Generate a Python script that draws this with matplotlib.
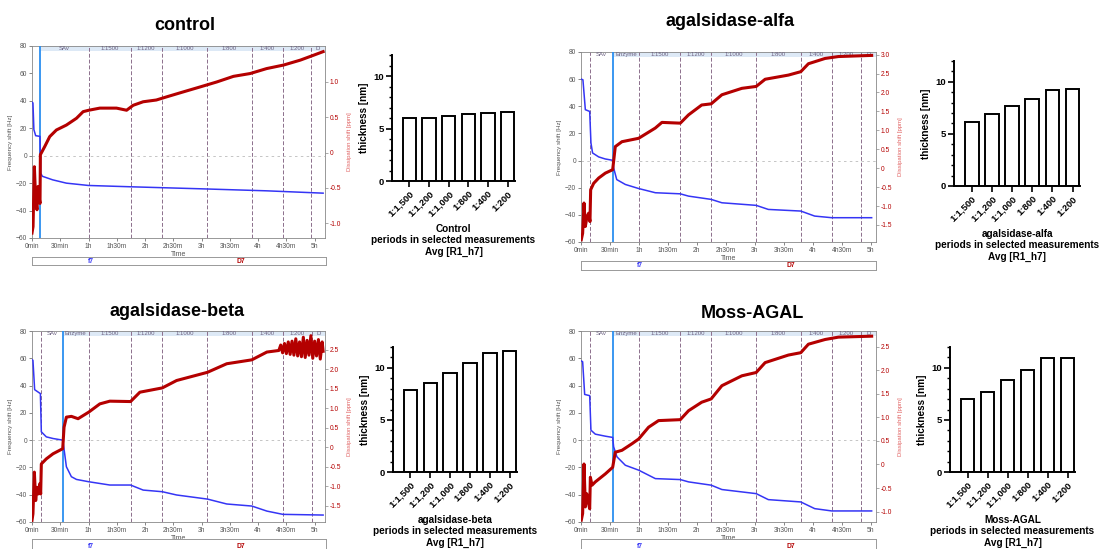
import matplotlib
matplotlib.use('Agg')
import matplotlib.pyplot as plt
from matplotlib.patches import Rectangle
from matplotlib.ticker import MultipleLocator

plt.rcParams['font.family'] = ['Liberation Sans', 'DejaVu Sans']

W, H = 1102, 549

# ---- QCM traces (time in minutes) ----
ctrl_tf = [0, 1, 2, 3.9, 8.5, 9.2, 11, 22, 36.5, 60, 107, 178, 249, 309]
ctrl_f = [39, 38.5, 19, 14.6, 14.1, -12.7, -15, -17.6, -20, -21.7, -22.7, -24.1, -25.6, -27.3]
ctrl_td = [0, 1.1, 2.5, 3.9, 5.3, 6.4, 7.4, 8.5, 8.9, 13.5, 18.8, 25.9, 36.5, 47.2, 54.3, 60.3, 72, 89.7,
           100.4, 107.4, 118, 132, 143, 160.6, 178.4, 196, 213.8, 231.6, 249, 267, 284.8, 299, 309]
ctrl_d = [-1.14, -1.05, -0.2, -0.67, -0.81, -0.48, -0.62, -0.72, -0.03, 0.085, 0.226, 0.32, 0.39, 0.486,
          0.58, 0.60, 0.63, 0.63, 0.60, 0.67, 0.72, 0.745, 0.79, 0.86, 0.93, 1.0, 1.08, 1.12, 1.19, 1.24,
          1.31, 1.38, 1.43]

alfa_tf = [0.3, 2, 4.5, 9, 10.3, 12, 18.3, 25, 32.8, 33.8, 37, 45.9, 59.7, 77, 102.8, 111.4, 134.8,
           145.9, 181.4, 194, 227.6, 242, 259.7, 301]
alfa_f = [60, 59.5, 37.5, 36.2, 13, 5.6, 2.7, 1.2, 0.2, -5.4, -14, -17.6, -20.6, -23.7, -24.5, -26.2,
          -28.6, -31.1, -33, -36, -37.2, -40.9, -42.1, -42.1]
alfa_td = [0.3, 1.7, 3.1, 4.5, 6.2, 7.9, 9.3, 10, 13.1, 18.3, 25.2, 32.8, 35.5, 42.4, 59.7, 76.9, 83.8,
           102.8, 111.4, 125, 134.8, 145.9, 166.6, 181.4, 190.7, 214.8, 227.6, 235.5, 252.8, 266.6, 301]
alfa_d = [-1.89, -1.72, -0.92, -1.54, -1.28, -1.19, -1.41, -0.57, -0.4, -0.26, -0.13, -0.04, 0.57, 0.70,
          0.79, 1.06, 1.21, 1.19, 1.41, 1.67, 1.70, 1.94, 2.11, 2.16, 2.35, 2.46, 2.55, 2.76, 2.90, 2.95,
          2.98]

beta_tf = [0, 1, 2.8, 8.9, 9.9, 15.2, 22.3, 32.6, 33.7, 36.5, 41.8, 47.2, 60.3, 82.6, 104.6, 118,
           138.3, 153.5, 186.2, 206.7, 233.3, 249.3, 266.3, 309]
beta_f = [59, 58.5, 37, 34.1, 6.1, 2.4, 1.2, 0, -4.9, -19.5, -26.8, -28.8, -30.5, -32.9, -32.9, -36.6,
          -37.8, -40.2, -43.2, -46.8, -48.3, -52, -54.4, -54.9]
beta_td = [0, 1, 2.5, 3.9, 5.3, 6.7, 8.2, 9.2, 9.9, 15.2, 22.3, 32.6, 34, 36.5, 41.8, 48.9, 60.3, 72,
           82.6, 104.6, 114.5, 138.3, 153.5, 186.2, 206.7, 233.3, 249.3, 262, 264, 266, 268, 270, 272,
           274, 276, 278, 280, 282, 284, 286, 288, 290, 292, 294, 296, 298, 300, 302, 304, 306, 308, 309]
beta_d = [-1.88, -1.71, -0.64, -1.37, -1.03, -1.2, -0.94, -1.2, -0.43, -0.3, -0.17, -0.04, 0.51, 0.77,
          0.79, 0.73, 0.9, 1.11, 1.18, 1.17, 1.41, 1.52, 1.71, 1.92, 2.14, 2.24, 2.44, 2.48, 2.62, 2.42,
          2.66, 2.40, 2.70, 2.38, 2.72, 2.36, 2.78, 2.34, 2.70, 2.32, 2.82, 2.30, 2.74, 2.36, 2.86, 2.28,
          2.72, 2.34, 2.76, 2.26, 2.70, 2.46]

moss_tf = [0.3, 1.7, 3.8, 9, 10.3, 14.8, 25.2, 32.8, 33.8, 37.2, 45.9, 59.7, 77, 102.8, 111.4, 134.8,
           145.9, 181.4, 194, 227.6, 242, 259.7, 301]
moss_f = [58, 57.5, 33.5, 32.6, 7.3, 4.4, 2.9, 2, -4.9, -12.2, -18.4, -22, -28.2, -28.9, -30.6, -33,
          -36.2, -39.2, -43.6, -45.3, -50.2, -51.9, -51.9]
moss_td = [0.3, 1.7, 3.1, 4.5, 5.9, 7.2, 9, 9.7, 11.4, 14.8, 25.2, 32.8, 35.5, 42.4, 52.8, 59.7, 70,
           80.3, 102.8, 111.4, 125, 134.8, 145.9, 166.6, 181.4, 190.7, 214.8, 227.6, 235.5, 252.8, 266.6,
           301]
moss_d = [-1.18, -1.04, 0.01, -0.9, -0.62, -0.76, -0.94, -0.27, -0.44, -0.37, -0.2, -0.06, 0.26, 0.3,
          0.44, 0.54, 0.79, 0.93, 0.95, 1.14, 1.32, 1.39, 1.67, 1.88, 1.95, 2.16, 2.32, 2.37, 2.55, 2.65,
          2.70, 2.72]

# event markers (minutes): dashed lines, blue = selected start
ctrl_events = [60, 104.6, 138, 186, 233, 266, 296]
ctrl_blue = 8.9
ctrl_labels = ['SAv', '1:1500', '1:1200', '1:1000', '1:800', '1:400', '1:200', 'D']
enz_events = [9.6, 60, 102.8, 134.8, 181, 227.6, 259.7, 289.7]
enz_blue = 33
enz_labels = ['SAv', 'Enzyme', '1:1500', '1:1200', '1:1000', '1:800', '1:400', '1:200', 'D']

time_ticks = [0, 30, 60, 90, 120, 150, 180, 210, 240, 270, 300]
time_labels = ['0min', '30min', '1h', '1h30m', '2h', '2h30m', '3h', '3h30m', '4h', '4h30m', '5h']

# ---- thickness bars ----
dilutions = ['1:1,500', '1:1,200', '1:1,000', '1:800', '1:400', '1:200']
thick_ctrl = [5.96, 5.96, 6.15, 6.34, 6.46, 6.59]
thick_alfa = [6.18, 6.9, 7.67, 8.37, 9.2, 9.3]
thick_beta = [7.84, 8.5, 9.52, 10.44, 11.43, 11.65]
thick_moss = [6.98, 7.71, 8.83, 9.84, 10.95, 10.95]

BLUE = '#3535f5'
RED = '#b40000'
EVT = '#8c6f8c'


def rect(x0, y0, x1, y1):
    return [x0 / W, 1 - y1 / H, (x1 - x0) / W, (y1 - y0) / H]


def qcm(box, tf, f, td, d, xmax, rlim, rticks, events, blue_t, labels):
    ax = fig.add_axes(rect(*box))
    ax.set_xlim(0, xmax)
    ax.set_ylim(-60, 80)
    ax.set_yticks(range(-60, 81, 20))
    ax.set_xticks(time_ticks)
    ax.set_xticklabels(time_labels)
    ax.tick_params(labelsize=4.8, colors='#555555', length=2, width=0.5, pad=1.5)
    for s in ax.spines.values():
        s.set_color('#888888')
        s.set_linewidth(0.6)
    ax.set_xlabel('Time', fontsize=5, color='#555555', labelpad=1)
    ax.set_ylabel('Frequency shift [Hz]', fontsize=4.5, color='#555555', labelpad=2)
    ax.axhline(0, color='#bbbbbb', lw=0.6, ls=(0, (3, 4)))
    # label strip on top
    ax.add_patch(Rectangle((blue_t, 76), xmax - blue_t, 4, color='#dde9f6', lw=0, zorder=0))
    for e in events:
        ax.axvline(e, color=EVT, lw=0.7, ls=(0, (4, 2)), zorder=1)
    ax.axvline(blue_t, color='#2b8ff0', lw=1.3, zorder=3)
    bounds = sorted(events + [blue_t])
    bounds = bounds + [xmax]
    for i, lab in enumerate(labels):
        if i + 1 >= len(bounds):
            break
        xm = (bounds[i] + bounds[i + 1]) / 2
        ax.text(xm, 78, lab, fontsize=4.3, color='#6a5f80', ha='center', va='center', zorder=4)
    ax.plot(tf, f, color=BLUE, lw=1.1, zorder=5)
    ax2 = ax.twinx()
    ax2.set_ylim(*rlim)
    ax2.set_yticks(rticks)
    ax2.set_yticklabels([f'{v:.1f}' if v != 0 else '0' for v in rticks])
    ax2.tick_params(labelsize=4.8, colors=RED, length=2, width=0.5, pad=1.5)
    ax2.tick_params(axis='y', colors='#888888', labelcolor=RED)
    for s in ax2.spines.values():
        s.set_visible(False)
    ax2.set_ylabel('Dissipation shift [ppm]', fontsize=4.3, color='#e06060', labelpad=4)
    ax2.plot(td, d, color=RED, lw=2.2, zorder=4)
    return ax


def legend_box(box):
    ax = fig.add_axes(rect(*box))
    ax.set_xticks([])
    ax.set_yticks([])
    for s in ax.spines.values():
        s.set_color('#999999')
        s.set_linewidth(0.7)
    ax.text(0.2, 0.45, 'f7', color='#3535f5', fontsize=4.8, ha='center', va='center',
            transform=ax.transAxes, fontweight='bold')
    ax.text(0.71, 0.45, 'D7', color=RED, fontsize=4.8, ha='center', va='center',
            transform=ax.transAxes, fontweight='bold')


def bars(box, vals, name):
    ax = fig.add_axes(rect(*box))
    x = list(range(len(dilutions)))
    ax.bar(x, vals, width=0.68, color='white', edgecolor='black', lw=1.4)
    ax.set_xlim(-0.88, 5.37)
    ax.set_ylim(0, 12)
    ax.set_yticks([0, 5, 10])
    ax.yaxis.set_minor_locator(MultipleLocator(1))
    ax.set_xticks(x)
    ax.set_xticklabels(dilutions, rotation=45, ha='right', rotation_mode='anchor')
    for s in ['top', 'right']:
        ax.spines[s].set_visible(False)
    for s in ['left', 'bottom']:
        ax.spines[s].set_linewidth(1.4)
    ax.tick_params(axis='both', which='major', length=4, width=1.2, labelsize=6.8, pad=2)
    ax.tick_params(axis='y', which='minor', length=2.5, width=1.0)
    for lab in ax.get_xticklabels() + ax.get_yticklabels():
        lab.set_fontweight('bold')
    ax.set_ylabel('thickness [nm]', fontsize=7.2, fontweight='bold', labelpad=3)
    ax.set_xlabel(name + '\nperiods in selected measurements\nAvg [R1_h7]', fontsize=7.2,
                  fontweight='bold', labelpad=4, linespacing=1.15)


fig = plt.figure(figsize=(W / 100, H / 100), dpi=100)

qcm((32, 46, 325, 238), ctrl_tf, ctrl_f, ctrl_td, ctrl_d, 311, (-1.21, 1.51),
    [-1.0, -0.5, 0, 0.5, 1.0], ctrl_events, ctrl_blue, ctrl_labels)
qcm((581, 52, 876, 242), alfa_tf, alfa_f, alfa_td, alfa_d, 305.5, (-1.95, 3.07),
    [-1.5, -1.0, -0.5, 0, 0.5, 1.0, 1.5, 2.0, 2.5, 3.0], enz_events, enz_blue, enz_labels)
qcm((32, 331, 325, 522), beta_tf, beta_f, beta_td, beta_d, 311, (-1.92, 2.98),
    [-1.5, -1.0, -0.5, 0, 0.5, 1.0, 1.5, 2.0, 2.5], [9.2, 60, 104.6, 138, 186, 233, 266, 297], 33,
    enz_labels)
qcm((581, 331, 876, 522), moss_tf, moss_f, moss_td, moss_d, 305.5, (-1.22, 2.83),
    [-1.0, -0.5, 0, 0.5, 1.0, 1.5, 2.0, 2.5], enz_events, enz_blue, enz_labels)

legend_box((32, 257, 326, 265))
legend_box((581, 261, 876, 270))
legend_box((32, 539, 326, 552))
legend_box((581, 539, 876, 552))

bars((392, 55, 515, 181), thick_ctrl, 'Control')
bars((954, 61, 1080, 186), thick_alfa, 'agalsidase-alfa')
bars((393, 347, 517, 472), thick_beta, 'agalsidase-beta')
bars((950, 347, 1075, 472), thick_moss, 'Moss-AGAL')

title_kw = dict(fontsize=13, fontweight='bold', ha='center', va='center')
fig.text(185 / W, 1 - 25 / H, 'control', **title_kw)
fig.text(730 / W, 1 - 22 / H, 'agalsidase-alfa', **title_kw)
fig.text(177 / W, 1 - 312 / H, 'agalsidase-beta', **title_kw)
fig.text(752 / W, 1 - 313 / H, 'Moss-AGAL', **title_kw)

fig.savefig('out.png', dpi=100)
